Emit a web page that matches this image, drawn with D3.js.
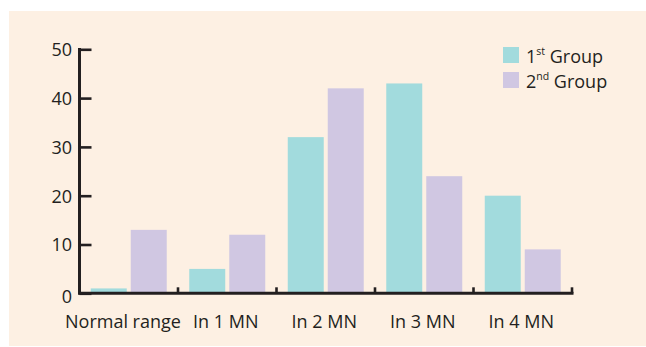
<!DOCTYPE html>
<html>
<head>
<meta charset="utf-8">
<script src="https://cdn.jsdelivr.net/npm/d3@7"></script>
<style>
  body { margin: 0; background: #ffffff; }
  svg { display: block; font-family: "Open Sans", "Noto Sans", sans-serif; }
</style>
</head>
<body>
<svg id="chart" width="646" height="347"></svg>
<script>
// chart data
const categories = ['Normal range', 'In 1 MN', 'In 2 MN', 'In 3 MN', 'In 4 MN'];
const group1 = [1, 5, 32, 43, 20];
const group2 = [13, 12, 42, 24, 9];
const yTicks = [0, 10, 20, 30, 40, 50];
const seriesNames = [['1', 'st', ' Group'], ['2', 'nd', ' Group']];
const colors = ['#a2dbdd', '#d0c7e2'];

const svg = d3.select('#chart');
const ink = '#231f20';

svg.append('rect')
   .attr('x', 9).attr('y', 11)
   .attr('width', 637).attr('height', 335)
   .attr('fill', '#fdf0e3');

const margin = {left: 79.5, right: 74, top: 49.3, bottom: 53.7};
const width = 646 - margin.left - margin.right,
      height = 347 - margin.top - margin.bottom;

const g = svg.append('g')
             .attr('transform', 'translate(' + margin.left + ',' + margin.top + ')');

const x = d3.scaleBand().domain(categories).range([0, width]).paddingInner(0).paddingOuter(0);
const y = d3.scaleLinear().domain([0, 50]).range([height, 0]);

const barW = 36, gap = 4;
const offset = (x.bandwidth() - 2 * barW - gap) / 2;

[group1, group2].forEach((vals, s) => {
  g.selectAll('.bar' + s)
   .data(vals)
   .enter().append('rect')
   .attr('x', (d, i) => x(categories[i]) + offset + s * (barW + gap))
   .attr('y', d => y(d))
   .attr('width', barW)
   .attr('height', d => y(0) - y(d))
   .attr('fill', colors[s]);
});

// y axis
const yAxis = g.append('g')
  .call(d3.axisRight(y).tickValues(yTicks).tickSize(12).tickFormat(''));
yAxis.select('.domain').remove();
yAxis.selectAll('line').attr('stroke', ink).attr('stroke-width', 2.6);

g.append('line')
 .attr('x1', 0).attr('x2', 0)
 .attr('y1', y(50) - 1.3).attr('y2', y(0) + 1.5)
 .attr('stroke', ink).attr('stroke-width', 3);

g.selectAll('.ylab')
 .data(yTicks)
 .enter().append('text')
 .attr('x', -7.5)
 .attr('y', d => y(d) + (d === 0 ? 9.5 : 7))
 .attr('text-anchor', 'end')
 .attr('font-size', 18)
 .attr('fill', ink)
 .text(d => d);

// x axis
g.append('line')
 .attr('x1', 0).attr('x2', width + 1.5)
 .attr('y1', y(0)).attr('y2', y(0))
 .attr('stroke', ink).attr('stroke-width', 3);

const bounds = categories.map(c => x(c) + x.bandwidth());
g.selectAll('.xtick')
 .data(bounds)
 .enter().append('line')
 .attr('x1', d => d).attr('x2', d => d)
 .attr('y1', y(0)).attr('y2', y(0) - 6)
 .attr('stroke', ink).attr('stroke-width', 2.6);

// first label is pushed left so it clears the next one
g.selectAll('.xlab')
 .data(categories)
 .enter().append('text')
 .attr('x', (d, i) => i === 0 ? -14.5 : x(d) + x.bandwidth() / 2 - 1.5)
 .attr('y', height + 34.5)
 .attr('text-anchor', (d, i) => i === 0 ? 'start' : 'middle')
 .attr('font-size', 18)
 .attr('fill', ink)
 .text(d => d);

// legend
const legend = svg.append('g').attr('transform', 'translate(503,47)');
seriesNames.forEach((parts, i) => {
  const row = legend.append('g').attr('transform', 'translate(0,' + i * 25 + ')');
  row.append('rect').attr('width', 16).attr('height', 16).attr('fill', colors[i]);
  const t = row.append('text')
     .attr('x', 23).attr('y', 15.5)
     .attr('font-size', 18)
     .attr('fill', ink);
  t.append('tspan').text(parts[0]);
  t.append('tspan').attr('font-size', 10.5).attr('dy', -7.5).text(parts[1]);
  t.append('tspan').attr('dy', 7.5).text(parts[2]);
});
</script>
</body>
</html>
